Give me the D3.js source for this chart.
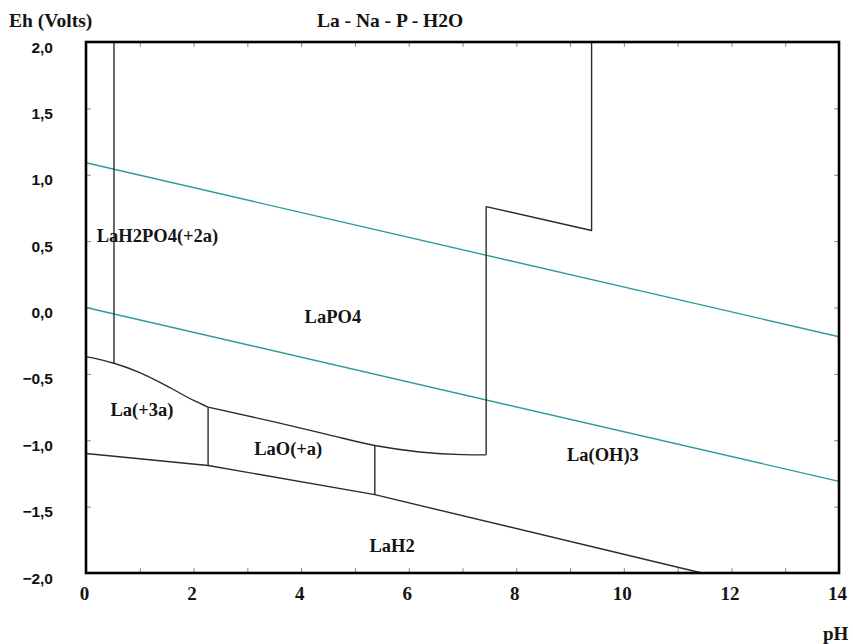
<!DOCTYPE html>
<html>
<head>
<meta charset="utf-8">
<script src="https://cdn.jsdelivr.net/npm/d3@7"></script>
<style>
  html, body { margin: 0; padding: 0; background: #fff; }
  svg { display: block; }
  .serif { font-family: "Liberation Serif", "Times New Roman", serif; font-weight: bold; fill: #141414; }
</style>
</head>
<body>
<svg id="chart" width="853" height="644"></svg>
<script>
// Eh-pH (Pourbaix) diagram for the La - Na - P - H2O system

const pHTicks = d3.range(0, 15, 1);
const pHTickLabels = [0, 2, 4, 6, 8, 10, 12, 14];
const ehTicks = [2, 1.5, 1, 0.5, 0, -0.5, -1, -1.5, -2];

// Water stability limits (O2/H2O above, H2O/H2 below)
const waterUpper = [[0, 1.09], [14, -0.22]];
const waterLower = [[0, 0.0], [14, -1.31]];

// Phase boundaries, each as [pH, Eh] points
const lah2po4Lapo4 = [[0.52, 2.0], [0.52, -0.42]];
const la3Upper = [[0, -0.37], [0.52, -0.42], [1.0, -0.49], [1.5, -0.59], [2.0, -0.70], [2.27, -0.75]];
const laoUpper = [[2.27, -0.75], [3.5, -0.862], [4.5, -0.958], [5.37, -1.04], [6.2, -1.088], [7.0, -1.108], [7.44, -1.11]];
const laoh3Step = [[7.44, -1.11], [7.44, 0.76], [9.4, 0.58], [9.4, 2.0]];
const la3Lao = [[2.27, -0.75], [2.27, -1.19]];
const laoLaoh3 = [[5.37, -1.04], [5.37, -1.41]];
const hydrideUpper = [[0, -1.10], [2.27, -1.19], [5.37, -1.41], [11.45, -2.0]];

const curvedBoundaries = [la3Upper, laoUpper];
const straightBoundaries = [lah2po4Lapo4, laoh3Step, la3Lao, laoLaoh3, hydrideUpper];
const waterLines = [waterUpper, waterLower];

// Predominance field names and their anchor points [pH, Eh]
const fieldNames = ["LaH2PO4(+2a)", "LaPO4", "La(+3a)", "LaO(+a)", "La(OH)3", "LaH2"];
const fieldAnchors = [[1.33, 0.49], [4.59, -0.12], [1.04, -0.82], [3.76, -1.11], [9.61, -1.16], [5.69, -1.84]];

const svg = d3.select("#chart");
const plotLeft = 86, plotRight = 839, plotTop = 42, plotBottom = 573;

const x = d3.scaleLinear().domain([0, 14]).range([plotLeft, plotRight]);
const y = d3.scaleLinear().domain([-2, 2]).range([plotBottom, plotTop]);

const line = d3.line().x(d => x(d[0])).y(d => y(d[1]));
const smoothLine = d3.line().x(d => x(d[0])).y(d => y(d[1])).curve(d3.curveMonotoneX);

// Axis ticks (inside the frame on all four sides)
const tickColor = "#8a8a8a";
const fmtEh = d => d3.format(".1f")(d).replace(".", ",");

const gBottom = svg.append("g").attr("transform", `translate(0,${plotBottom})`)
  .call(d3.axisBottom(x).tickValues(pHTicks).tickSizeInner(-5).tickSizeOuter(0).tickPadding(14)
    .tickFormat(d => pHTickLabels.includes(d) ? d : ""));
gBottom.select(".domain").remove();
gBottom.selectAll(".tick line").attr("stroke", tickColor);
gBottom.selectAll(".tick text")
  .attr("class", "serif").attr("font-size", 19).attr("dx", -2).attr("dy", "0.66em");

const gTop = svg.append("g").attr("transform", `translate(0,${plotTop})`)
  .call(d3.axisTop(x).tickValues(pHTicks).tickSizeInner(-5).tickSizeOuter(0).tickFormat(""));
gTop.select(".domain").remove();
gTop.selectAll(".tick line").attr("stroke", tickColor);

const gLeft = svg.append("g").attr("transform", `translate(${plotLeft},0)`)
  .call(d3.axisLeft(y).tickValues(ehTicks).tickSizeInner(-5).tickSizeOuter(0).tickPadding(33).tickFormat(fmtEh));
gLeft.select(".domain").remove();
gLeft.selectAll(".tick line").attr("stroke", tickColor);
gLeft.selectAll(".tick text")
  .attr("font-family", "'Liberation Sans', Arial, sans-serif")
  .attr("font-weight", "bold").attr("font-size", 15.5).attr("fill", "#111")
  .attr("dy", 10);

const gRight = svg.append("g").attr("transform", `translate(${plotRight},0)`)
  .call(d3.axisRight(y).tickValues(ehTicks).tickSizeInner(-5).tickSizeOuter(0).tickFormat(""));
gRight.select(".domain").remove();
gRight.selectAll(".tick line").attr("stroke", tickColor);

// Water stability lines
svg.append("g").selectAll("path").data(waterLines).join("path")
  .attr("d", line).attr("fill", "none").attr("stroke", "#2f9a9a").attr("stroke-width", 1.4);

// Phase boundaries
const gBound = svg.append("g").attr("fill", "none").attr("stroke", "#2b2b2b")
  .attr("stroke-width", 1.4).attr("stroke-linejoin", "round");
gBound.selectAll("path.curved").data(curvedBoundaries).join("path")
  .attr("class", "curved").attr("d", smoothLine);
gBound.selectAll("path.straight").data(straightBoundaries).join("path")
  .attr("class", "straight").attr("d", line);

// Field labels
svg.append("g").selectAll("text").data(fieldNames).join("text")
  .attr("class", "serif").attr("font-size", 18.5).attr("text-anchor", "middle")
  .attr("x", (d, i) => x(fieldAnchors[i][0]))
  .attr("y", (d, i) => y(fieldAnchors[i][1]))
  .text(d => d);

// Frame
svg.append("rect")
  .attr("x", plotLeft).attr("y", plotTop).attr("width", plotRight - plotLeft).attr("height", plotBottom - plotTop)
  .attr("fill", "none").attr("stroke", "#000").attr("stroke-width", 2.6);

// Titles
svg.append("text").attr("class", "serif").attr("font-size", 19.5)
  .attr("x", 9).attr("y", 27).text("Eh (Volts)");
svg.append("text").attr("class", "serif").attr("font-size", 19.5).attr("text-anchor", "middle")
  .attr("x", 390).attr("y", 27).text("La - Na - P - H2O");
svg.append("text").attr("class", "serif").attr("font-size", 19)
  .attr("x", 823).attr("y", 640).text("pH");
</script>
</body>
</html>
